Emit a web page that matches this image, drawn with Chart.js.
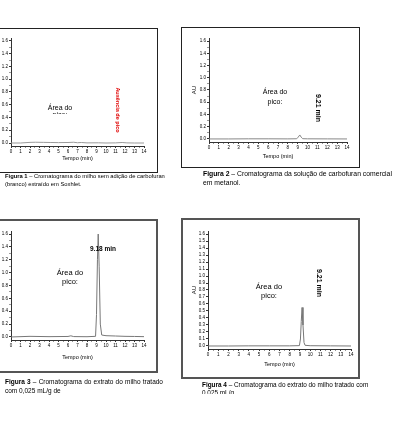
<!DOCTYPE html>
<html>
<head>
<meta charset="utf-8">
<script src="https://cdn.jsdelivr.net/npm/chart.js@4/dist/chart.umd.min.js"></script>
<style>
  body { margin: 0; width: 397px; height: 435px; position: relative; overflow: hidden; background: #fff;
         font-family: "Liberation Sans", Arial, sans-serif; color: #000; }
  .box { position: absolute; box-sizing: border-box; }
  canvas { position: absolute; }
  .t { position: absolute; white-space: nowrap; transform: translate(-50%, -50%); line-height: 1; }
  .rot { transform: translate(-50%, -50%) rotate(90deg); font-weight: bold; }
  .cap { position: absolute; line-height: 9px; color: #000; transform: translateZ(0); will-change: transform; }
  .cap b { font-weight: bold; color: #000; }
</style>
</head>
<body>

<div class="box" style="left:-10px;top:28px;width:168px;height:145px;border:1.5px solid #222"></div>
<div class="box" style="left:181px;top:27px;width:179px;height:141px;border:1.5px solid #222"></div>
<div class="box" style="left:-10px;top:219px;width:168px;height:154px;border:2px solid #555"></div>
<div class="box" style="left:181px;top:218px;width:179px;height:161px;border:2px solid #555"></div>

<canvas id="c1" width="156" height="141" style="left:0;top:30px"></canvas>
<canvas id="c2" width="175" height="137" style="left:183px;top:29px"></canvas>
<canvas id="c3" width="156" height="150" style="left:0;top:221px"></canvas>
<canvas id="c4" width="175" height="157" style="left:183px;top:220px"></canvas>

<!-- panel labels -->
<div class="t" style="left:60px;top:107px;font-size:7px">Área do</div>
<div style="position:absolute;left:48px;top:111px;width:24px;height:3px;overflow:hidden">
  <div style="font-size:7px;line-height:7px;text-align:center">pico:</div>
</div>
<div class="t rot" style="left:117px;top:110px;font-size:5.5px;color:#e00000">Ausência de pico</div>

<div class="t" style="left:275px;top:91px;font-size:7px">Área do</div>
<div class="t" style="left:275px;top:101px;font-size:7px">pico:</div>
<div class="t rot" style="left:318px;top:108px;font-size:7px">9.21 min</div>

<div class="t" style="left:70px;top:273px;font-size:7.5px">Área do</div>
<div class="t" style="left:70px;top:282px;font-size:7.5px">pico:</div>
<div class="t" style="left:103px;top:249px;font-size:6.5px;font-weight:bold">9.18 min</div>

<div class="t" style="left:269px;top:287px;font-size:7.5px">Área do</div>
<div class="t" style="left:269px;top:296px;font-size:7.5px">pico:</div>
<div class="t rot" style="left:319px;top:283px;font-size:7px">9.21 min</div>

<!-- captions -->
<div class="cap" style="left:5px;top:172px;font-size:5.8px;line-height:8px">
  <b>Figura 1</b> – Cromatograma do milho sem adição de carbofuran<br>(branco) extraído em Soxhlet.
</div>
<div class="cap" style="left:203px;top:169px;font-size:6.8px">
  <b>Figura 2</b> – Cromatograma da solução de carbofuran comercial<br>em metanol.
</div>
<div class="cap" style="left:5px;top:377px;width:158px;font-size:6.5px;text-align:justify;text-align-last:left">
  <b>Figura 3</b> – Cromatograma do extrato do milho tratado com 0,025 mL/g de
</div>
<div class="cap" style="left:202px;top:381px;font-size:6.4px;line-height:8px;height:13px;overflow:hidden">
  <b>Figura 4</b> – Cromatograma do extrato do milho tratado com<br>0,025 mL/g
</div>

<script>
// tick marks (labels only where the value is "major")
const xTicks = [0, 0.5, 1, 1.5, 2, 2.5, 3, 3.5, 4, 4.5, 5, 5.5, 6, 6.5, 7, 7.5, 8, 8.5, 9, 9.5, 10, 10.5, 11, 11.5, 12, 12.5, 13, 13.5, 14];
const yTicks = [0, 0.1, 0.2, 0.3, 0.4, 0.5, 0.6, 0.7, 0.8, 0.9, 1.0, 1.1, 1.2, 1.3, 1.4, 1.5, 1.6];
const yMajor = [0, 0.2, 0.4, 0.6, 0.8, 1.0, 1.2, 1.4, 1.6];

// Figura 1: branco (sem pico)
const tempo1 = [0, 1.0, 2.0, 2.6, 3.4, 4.2, 5.0, 6.0, 6.6, 7.0, 7.4, 8.0, 9.2, 10.0, 11.0, 11.7, 12.2, 13.0, 14.0];
const au1 = [0.0, 0.0, 0.01, 0.012, 0.01, 0.008, 0.006, 0.008, 0.012, 0.004, 0.008, 0.002, 0.003, 0.0, 0.002, 0.008, 0.002, 0.0, 0.0];

// Figura 2: padrão comercial
const tempo2 = [0, 2, 4, 6, 8, 8.9, 9.05, 9.21, 9.35, 9.5, 10, 12, 14];
const au2 = [0, 0, 0.002, 0.002, 0.001, 0.003, 0.03, 0.065, 0.03, 0.004, 0.002, 0.001, 0];

// Figura 3: extrato tratado
const tempo3 = [0, 2, 4, 6, 6.3, 6.6, 8, 8.9, 9.0, 9.1, 9.18, 9.28, 9.4, 9.55, 10, 11, 12, 13, 14];
const au3 = [0, 0.01, 0.005, 0.008, 0.018, 0.006, 0.004, 0.01, 0.35, 1.2, 1.6, 1.1, 0.2, 0.03, 0.02, 0.015, 0.01, 0.008, 0.005];

// Figura 4: extrato tratado
const tempo4 = [0, 2, 4, 6, 8, 8.95, 9.05, 9.13, 9.21, 9.3, 9.4, 9.5, 10, 12, 14];
const au4 = [0, 0, 0.002, 0.002, 0.002, 0.005, 0.1, 0.35, 0.55, 0.3, 0.05, 0.01, 0.004, 0.002, 0];

const isMajorY = (v, all) => all || yMajor.some(m => Math.abs(m - v) < 1e-6);

function cromatograma(id, tempo, au, p) {
  const canvas = document.getElementById(id);
  const pts = tempo.map((t, i) => ({ x: t, y: au[i] }));
  new Chart(canvas.getContext('2d'), {
    type: 'line',
    data: { datasets: [{ data: pts, borderColor: p.cor, borderWidth: 1, pointRadius: 0, tension: 0, fill: false }] },
    options: {
      responsive: false,
      animation: false,
      layout: { padding: { left: 0, top: p.top, right: p.right, bottom: 0 } },
      plugins: { legend: { display: false }, tooltip: { enabled: false } },
      scales: {
        x: {
          type: 'linear', min: 0, max: 14,
          afterBuildTicks: s => { s.ticks = xTicks.map(v => ({ value: v })); },
          afterFit: s => { s.height = p.xh; },
          ticks: { font: { size: 4.5 }, color: '#000', padding: 1, maxRotation: 0, autoSkip: false,
                   callback: v => Number.isInteger(v) ? String(v) : '' },
          grid: { drawOnChartArea: false, tickLength: 2,
                  color: c => (c.tick && !Number.isInteger(c.tick.value)) ? '#999' : '#333' },
          border: { color: '#333', width: 1 },
          title: { display: true, text: 'Tempo (min)', font: { size: 5.5 }, color: '#000', padding: { top: 0, bottom: p.tb } }
        },
        y: {
          min: p.ymin, max: p.ymax,
          afterBuildTicks: s => { s.ticks = yTicks.map(v => ({ value: v })); },
          afterFit: s => { s.width = p.yw; },
          ticks: { font: { size: 4.5 }, color: '#000', padding: 1, autoSkip: false,
                   callback: v => isMajorY(v, p.fine) ? v.toFixed(1) : '' },
          grid: { drawOnChartArea: false, tickLength: 2,
                  color: c => (c.tick && !isMajorY(c.tick.value, p.fine)) ? '#999' : '#333' },
          border: { color: '#333', width: 1 },
          title: { display: p.au, text: 'AU', font: { size: 6 }, color: '#000', padding: { top: 7.4, bottom: 0 } }
        }
      }
    }
  });
}

cromatograma('c1', tempo1, au1, { top: 8, right: 12, yw: 11, xh: 25, tb: 9.7, ymin: -0.047, ymax: 1.647, fine: false, au: false, cor: '#999' });
cromatograma('c2', tempo2, au2, { top: 9, right: 11, yw: 26, xh: 24, tb: 6.7, ymin: -0.05, ymax: 1.65, fine: false, au: true, cor: '#888' });
cromatograma('c3', tempo3, au3, { top: 10, right: 12, yw: 11, xh: 31, tb: 10.7, ymin: -0.047, ymax: 1.647, fine: false, au: false, cor: '#777' });
cromatograma('c4', tempo4, au4, { top: 11, right: 7, yw: 25, xh: 28, tb: 9.7, ymin: -0.043, ymax: 1.643, fine: true, au: true, cor: '#777' });
</script>
</body>
</html>
